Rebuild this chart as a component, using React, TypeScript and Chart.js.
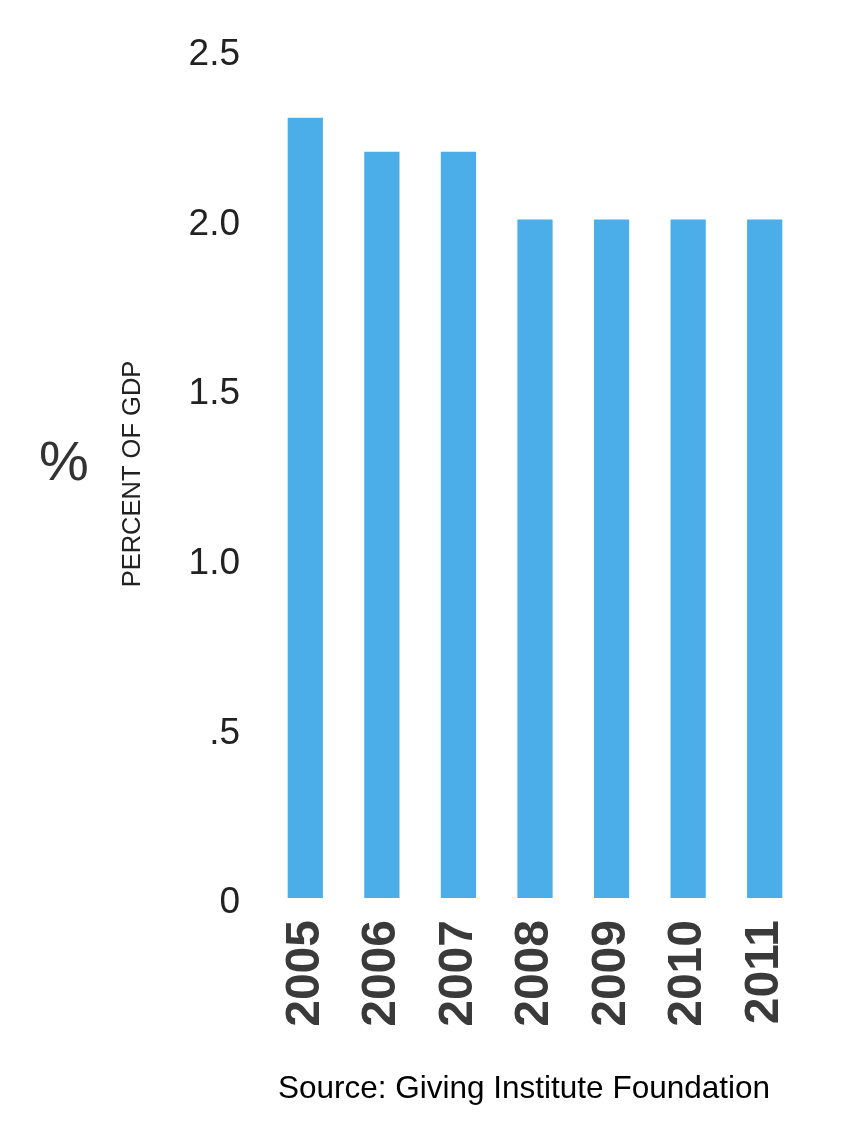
import React, { useEffect, useRef } from "react";
import { Chart, registerables } from "chart.js";

Chart.register(...registerables);

const years = ["2005", "2006", "2007", "2008", "2009", "2010", "2011"];
const percentOfGdp = [2.3, 2.2, 2.2, 2.0, 2.0, 2.0, 2.0];
const yTickLabels = ["0", ".5", "1.0", "1.5", "2.0", "2.5"];
const yTitle = "PERCENT OF GDP";
const unitLabel = "%";
const sourceText = "Source: Giving Institute Foundation";

const FONT = "'Liberation Sans', Arial, Helvetica, sans-serif";

const extraText = {
  id: "extraText",
  afterDraw(chart: any) {
    const ctx = chart.ctx;
    ctx.save();
    ctx.fillStyle = "#333";
    ctx.font = `56px ${FONT}`;
    ctx.textAlign = "center";
    ctx.textBaseline = "middle";
    ctx.fillText(unitLabel, 64, 465);
    ctx.fillStyle = "#000";
    ctx.font = `31.5px ${FONT}`;
    ctx.fillText(sourceText, 524, 1089);
    ctx.restore();
  },
};

export default function App() {
  const ref = useRef<HTMLCanvasElement | null>(null);
  useEffect(() => {
    if (!ref.current) return;
    const chart = new Chart(ref.current, {
      type: "bar",
      data: {
        labels: years,
        datasets: [
          {
            data: percentOfGdp,
            backgroundColor: "#4BAEE8",
            borderWidth: 0,
            barPercentage: 0.46,
            categoryPercentage: 1,
          },
        ],
      },
      options: {
        animation: false,
        responsive: false,
        maintainAspectRatio: false,
        layout: { padding: { left: 100, right: 59, top: 50, bottom: 0 } },
        plugins: { legend: { display: false }, tooltip: { enabled: false } },
        scales: {
          x: {
            grid: { display: false },
            border: { display: false },
            ticks: {
              autoSkip: false,
              minRotation: 90,
              maxRotation: 90,
              padding: 14,
              color: "#3a3a3a",
              font: { family: FONT, size: 48, weight: "bold" },
            },
            afterFit: (s: any) => {
              s.height = 244;
            },
          },
          y: {
            min: 0,
            max: 2.5,
            grid: { display: false },
            border: { display: false },
            ticks: {
              stepSize: 0.5,
              padding: 19,
              labelOffset: 5,
              color: "#222",
              font: { family: FONT, size: 37 },
              callback: (_v: any, i: number) => yTickLabels[i],
            },
            title: {
              display: true,
              text: yTitle,
              color: "#222",
              font: { family: FONT, size: 25.5 },
              padding: { top: 18, bottom: 0 },
            },
            afterFit: (s: any) => {
              s.width = 167;
            },
          },
        },
      },
      plugins: [extraText],
    });
    return () => chart.destroy();
  }, []);
  return (
    <div style={{ position: "fixed", left: 0, top: 0, width: 862, height: 1142, background: "#fff" }}>
      <canvas ref={ref} width={862} height={1142} style={{ width: 862, height: 1142 }} />
    </div>
  );
}
